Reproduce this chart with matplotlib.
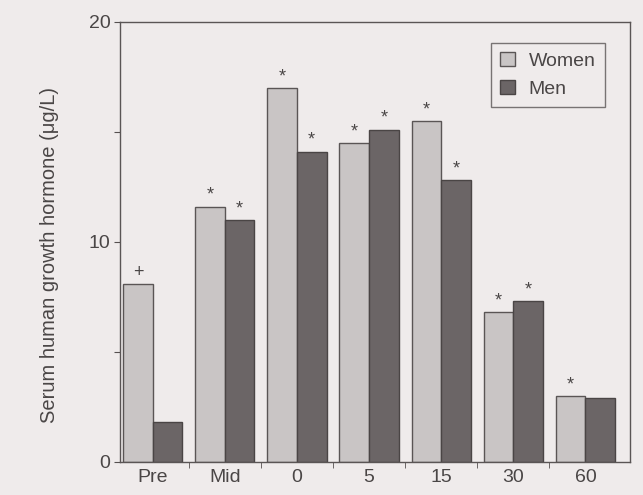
import numpy as np
import matplotlib
matplotlib.use("Agg")
import matplotlib.pyplot as plt

# serum hGH (ug/L) by sampling time, women vs men
times = ['Pre', 'Mid', '0', '5', '15', '30', '60']
women = [8.1, 11.6, 17.0, 14.5, 15.5, 6.8, 3.0]
men = [1.8, 11.0, 14.1, 15.1, 12.8, 7.3, 2.9]
women_marks = ['+', '*', '*', '*', '*', '*', '*']
men_marks = ['', '*', '*', '*', '*', '*', '']

bg = '#efebeb'
ink = '#4a4646'

plt.rcParams['font.family'] = ['Liberation Sans', 'DejaVu Sans']

fig = plt.figure(figsize=(6.43, 4.95), dpi=100, facecolor=bg)
ax = fig.add_axes([0.187, 0.067, 0.793, 0.889], facecolor=bg)

x = np.arange(len(times))
w = 0.41
ax.bar(x - w / 2, women, w, color='#c9c5c5', edgecolor='#5a5555',
       linewidth=1.0, label='Women')
ax.bar(x + w / 2, men, w, color='#6b6566', edgecolor='#4a4545',
       linewidth=1.0, label='Men')

for xi, v, m in zip(x - w / 2, women, women_marks):
    if m:
        ax.text(xi, v + 0.12, m, ha='center', va='bottom', fontsize=13, color=ink)
for xi, v, m in zip(x + w / 2, men, men_marks):
    if m:
        ax.text(xi, v + 0.12, m, ha='center', va='bottom', fontsize=13, color=ink)

ax.set_xlim(-0.45, 6.62)
ax.set_ylim(0, 20)
ax.set_yticks([0, 5, 10, 15, 20])
ax.set_yticklabels(['0', '', '10', '', '20'], fontsize=14, color=ink)
ax.set_xticks(x)
ax.set_xticklabels(times, fontsize=14, color=ink)
ax.tick_params(axis='x', length=0, pad=5)
ax.set_xticks(x[:-1] + 0.5, minor=True)
ax.tick_params(axis='x', which='minor', length=4, color='#555050')
ax.tick_params(axis='y', length=4, color='#555050', pad=3)

for s in ax.spines.values():
    s.set_color('#5a5555')
    s.set_linewidth(1.0)

ax.set_ylabel('Serum human growth hormone (\u03bcg/L)', fontsize=14.5, color=ink)
ax.yaxis.set_label_coords(-0.12, 0.47)

leg = ax.legend(loc='upper right', fontsize=14, frameon=True, fancybox=False,
                edgecolor='#5a5555', facecolor=bg, handlelength=0.75,
                handleheight=0.75, handletextpad=0.7, borderpad=0.5,
                labelspacing=0.5, bbox_to_anchor=(0.97, 0.975))
leg.get_frame().set_linewidth(1.0)
for t in leg.get_texts():
    t.set_color(ink)

fig.savefig('out.png', dpi=100, facecolor=bg)
